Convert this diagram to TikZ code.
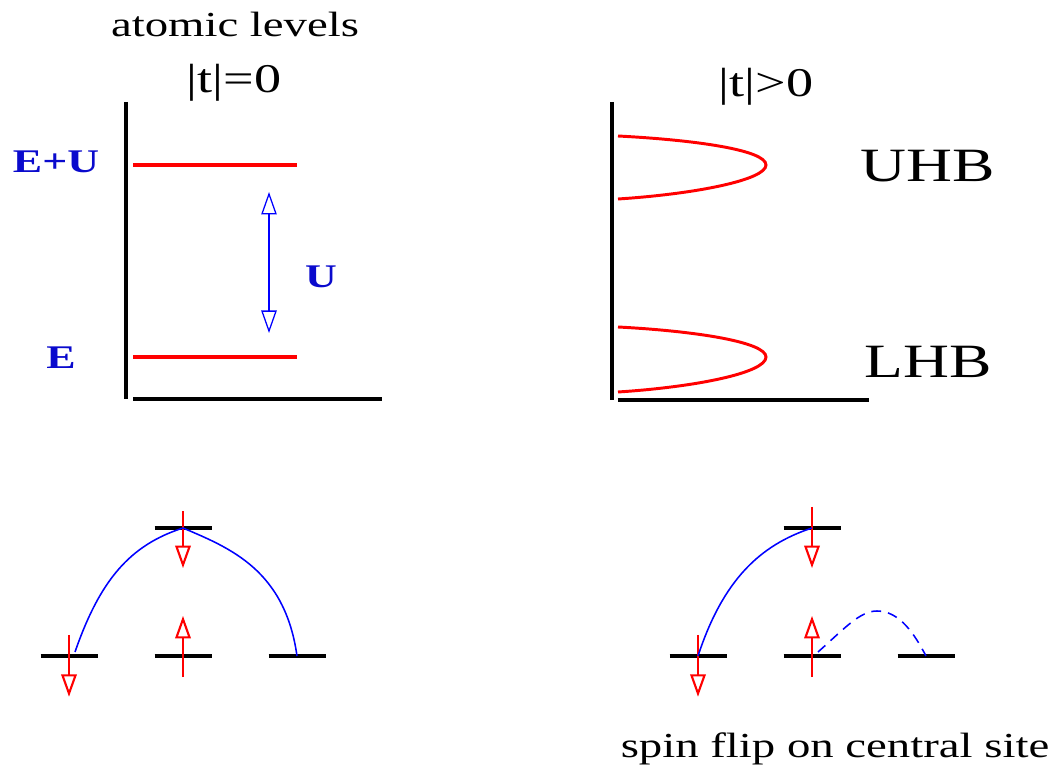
\documentclass[tikz,border=0pt]{standalone}
\usepackage{fontspec}
\setmainfont{Liberation Serif}
\usetikzlibrary{arrows.meta,positioning}
\definecolor{lblblue}{RGB}{10,10,205}

\begin{document}
\begin{tikzpicture}[x=0.025cm, y=-0.025cm, >={Triangle[open, length=16pt, width=11pt]},
    txt/.style={anchor=base, inner sep=0pt, xscale=1.33},
    axisline/.style={draw=black, line width=2.2pt},
    redlevel/.style={draw=red, line width=2.2pt},
    band/.style={draw=red, line width=2.1pt},
    sitebar/.style={draw=black, line width=2.2pt},
    spinarrow/.style={draw=red, line width=1.5pt, ->},
    hopline/.style={draw=blue, line width=1.1pt}]
    \useasboundingbox (0,0) rectangle (1055,767);

    \coordinate (Ltop) at (126,102);
    \coordinate (Lorg) at (126,399);
    \coordinate (Lend) at (382,399);
    \coordinate (Rtop) at (612,102);
    \coordinate (Rorg) at (612,400);
    \coordinate (Rend) at (869,400);

    \node[txt, font=\fontsize{25}{30}\selectfont] (title) at (235,37) {atomic levels};
    \node[txt, font=\fontsize{29}{34}\selectfont] (t0) at (234,93) {|t|=0};
    \node[txt, font=\fontsize{29}{34}\selectfont] (tpos) at (766,97) {|t|>0};

    \draw[axisline] (Ltop) -- (Lorg);
    \draw[axisline] ([xshift=5pt]Lorg) -- (Lend);
    \draw[redlevel] (133,165) coordinate (EU) -- (297,165);
    \draw[redlevel] (133,357) coordinate (E) -- (297,357);
    \coordinate (Uhi) at (269,192);
    \coordinate (Ulo) at (269,333);
    \draw[blue, line width=0.9pt, <->] (Uhi) -- (Ulo);
    \node[txt, text=lblblue, font=\bfseries\fontsize{23.5}{28}\selectfont] (EUlbl) at (56,173) {E+U};
    \node[txt, text=lblblue, font=\bfseries\fontsize{23.5}{28}\selectfont] (Elbl) at (61,369) {E};
    \node[txt, text=lblblue, font=\bfseries\fontsize{23.5}{28}\selectfont] (Ulbl) at (321,288) {U};

    \draw[axisline] (Rtop) -- (Rorg);
    \draw[axisline] ([xshift=4pt]Rorg) -- (Rend);
    \draw[band] (618,136) .. controls (695,140) and (766,150) .. (766,165)
                          .. controls (766,180) and (695,194) .. (618,199);
    \draw[band] (618,327) .. controls (695,331) and (766,342) .. (766,357)
                          .. controls (766,373) and (695,387) .. (618,392);
    \node[txt, font=\fontsize{34}{40}\selectfont] (UHB) at (928,182) {UHB};
    \node[txt, font=\fontsize{34}{40}\selectfont] (LHB) at (928,378) {LHB};

    \coordinate (a0) at (183,528);
    \coordinate (a1) at (69,656);
    \coordinate (a2) at (183,656);
    \coordinate (a3) at (297,656);
    \coordinate (b0) at (812,528);
    \coordinate (b1) at (698,656);
    \coordinate (b2) at (812,656);
    \coordinate (b3) at (926,656);
    \foreach \s in {a0,a1,a2,a3,b0,b1,b2,b3}
        \draw[sitebar] (\s) ++(-28.5,0) -- ++(57,0);

    \draw[spinarrow] ([yshift=12pt]a0) -- ([yshift=-28.5pt]a0);
    \draw[spinarrow] ([yshift=15pt]a1) -- ([yshift=-29pt]a1);
    \draw[spinarrow] ([yshift=-15pt]a2) -- ([yshift=28.5pt]a2);
    \draw[spinarrow] ([yshift=15pt]b0) -- ([yshift=-28.5pt]b0);
    \draw[spinarrow] ([yshift=15pt]b1) -- ([yshift=-29pt]b1);
    \draw[spinarrow] ([yshift=-15pt]b2) -- ([yshift=28.5pt]b2);

    \coordinate (a1h) at (75,652);
    \draw[hopline] (a1h) .. controls (100,580) and (130,545) .. (a0);
    \draw[hopline] (a0) .. controls (230,548) and (285,570) .. (a3);
    \draw[hopline] (b1) .. controls (723,580) and (760,545) .. (b0);
    \coordinate (b2h) at (818,652);
    \coordinate (bpk) at (877,611);
    \draw[hopline, dash pattern=on 7pt off 5pt] (b2h) .. controls (845,628) and (860,611) .. (bpk)
                          .. controls (900,611) and (915,635) .. (b3);

    \node[txt, font=\fontsize{25}{30}\selectfont] (flip) at (835,757) {spin flip on central site};
\end{tikzpicture}
\end{document}
